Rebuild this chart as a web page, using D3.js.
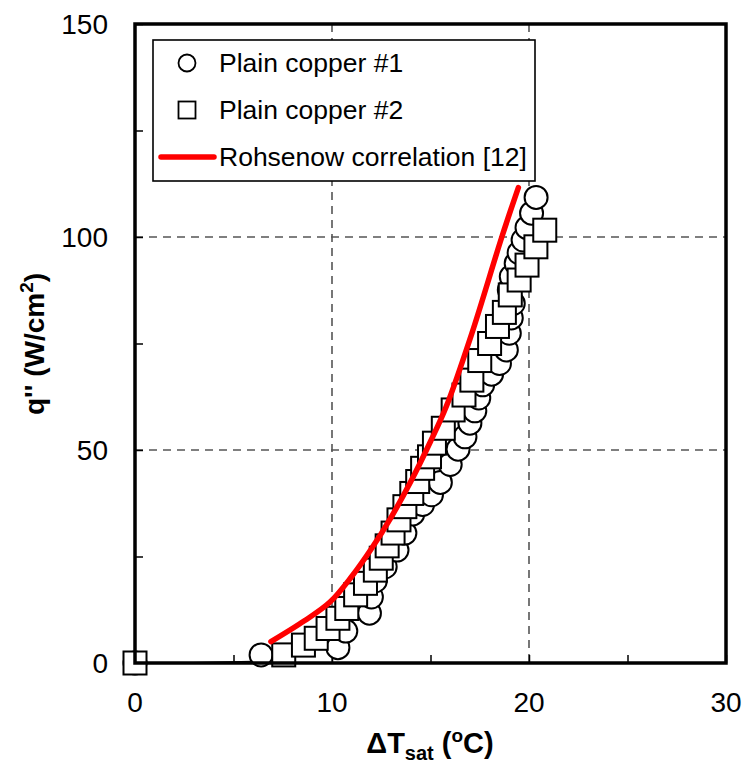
<!DOCTYPE html>
<html>
<head>
<meta charset="utf-8">
<script src="https://cdn.jsdelivr.net/npm/d3@7/dist/d3.min.js"></script>
<style>
  html, body { margin: 0; padding: 0; background: #fff; }
  svg { display: block; font-family: "Liberation Sans", Arial, sans-serif; }
</style>
</head>
<body>
<svg id="chart" width="746" height="767"></svg>
<script>
// Pool boiling curve: heat flux vs wall superheat
const xTicks = [0, 10, 20, 30];
const yTicks = [0, 50, 100, 150];
const xMinor = [5, 15, 25];
const yMinor = [25, 75, 125];

// Plain copper #1 (dT_sat in degC, q'' in W/cm2)
const copper1 = [
  [0, 0], [6.4, 1.9], [10.3, 3.6], [10.7, 7.5], [11.9, 11.7], [12.0, 15.5],
  [12.2, 19.3], [12.7, 22.6], [13.3, 26.5], [13.7, 30.5], [14.1, 35.0],
  [14.6, 37.2], [15.05, 39.5], [15.5, 42.4], [16.0, 46.6], [16.4, 50.2],
  [16.75, 53.1], [17.0, 56.3], [17.25, 59.2], [17.45, 62.2], [17.65, 65.3],
  [18.1, 67.8], [18.5, 70.3], [18.85, 73.5], [19.0, 77.4], [19.1, 81.0],
  [19.2, 84.4], [19.0, 87.6], [19.1, 90.7], [19.35, 93.8], [19.5, 96.3],
  [19.7, 99.3], [19.9, 102.2], [20.13, 105.6], [20.36, 109.3]
];

// Plain copper #2
const copper2 = [
  [0, 0], [7.55, 1.9], [8.55, 4.2], [9.2, 5.8], [9.8, 8.1], [10.3, 10.5],
  [10.75, 12.8], [11.2, 16.0], [11.7, 18.7], [12.2, 21.8], [12.5, 24.6],
  [12.8, 27.5], [13.1, 30.5], [13.4, 33.6], [13.7, 36.7], [14.05, 39.8],
  [14.35, 42.6], [14.6, 45.7], [14.95, 48.4], [15.2, 51.6], [15.65, 55.1],
  [16.15, 59.4], [16.7, 62.9], [17.1, 66.4], [17.5, 71.0], [18.0, 75.0],
  [18.4, 79.0], [18.75, 82.3], [19.05, 86.4], [19.5, 89.9], [19.9, 93.4],
  [20.35, 97.7], [20.8, 101.6]
];

// Rohsenow correlation [12]
const rohsenow = [
  [6.9, 5.0], [8.6, 9.9], [9.9, 14.3], [11.0, 20.3], [12.0, 26.8],
  [13.0, 34.2], [14.0, 42.6], [15.0, 52.0], [15.8, 60.2], [17.1, 77.4],
  [18.62, 100.0], [19.46, 111.6]
];

// Thin connector along the baseline from the origin point
const baseLink = [[0.5, 0.0], [6.0, 0.55], [6.0, -0.25]];

const legendItems = ["Plain copper #1", "Plain copper #2", "Rohsenow correlation [12]"];

const svg = d3.select("#chart");
const x = d3.scaleLinear().domain([0, 30]).range([135, 726]);
const y = d3.scaleLinear().domain([0, 150]).range([663, 24]);

// Dashed grid at interior major ticks
const grid = svg.append("g").attr("stroke", "#555").attr("stroke-width", 1.6)
  .attr("stroke-dasharray", "8,6");
grid.selectAll("line.gx").data(xTicks.filter(d => d > 0 && d < 30)).join("line")
  .attr("x1", d => x(d)).attr("x2", d => x(d))
  .attr("y1", y(150)).attr("y2", y(0));
grid.selectAll("line.gy").data(yTicks.filter(d => d > 0 && d < 150)).join("line")
  .attr("x1", x(0)).attr("x2", x(30))
  .attr("y1", d => y(d)).attr("y2", d => y(d));

// Inward tick marks
const bottomAxis = d3.axisBottom(x).tickValues(xTicks.concat(xMinor)).tickSize(-8).tickFormat("");
const leftAxis = d3.axisLeft(y).tickValues(yTicks.concat(yMinor)).tickSize(-8).tickFormat("");
svg.append("g").attr("transform", `translate(0,${y(0)})`).call(bottomAxis)
  .call(g => g.select(".domain").remove())
  .selectAll("line").attr("stroke", "#000").attr("stroke-width", 1.5);
svg.append("g").attr("transform", `translate(${x(0)},0)`).call(leftAxis)
  .call(g => g.select(".domain").remove())
  .selectAll("line").attr("stroke", "#000").attr("stroke-width", 1.5);

// Tick labels
svg.append("g").selectAll("text").data(xTicks).join("text")
  .attr("x", d => x(d)).attr("y", 712)
  .attr("text-anchor", "middle").attr("font-size", 28).attr("fill", "#000")
  .text(d => d);
svg.append("g").selectAll("text").data(yTicks).join("text")
  .attr("x", 108).attr("y", d => y(d)).attr("dy", "0.36em")
  .attr("text-anchor", "end").attr("font-size", 28).attr("fill", "#000")
  .text(d => d);

// Axis titles
const xt = svg.append("text").attr("x", 430).attr("y", 753)
  .attr("text-anchor", "middle").attr("font-size", 29).attr("font-weight", "bold");
xt.append("tspan").text("ΔT");
xt.append("tspan").attr("font-size", 20).attr("dy", 7).text("sat");
xt.append("tspan").attr("dy", -7).text(" (");
xt.append("tspan").attr("font-size", 19).attr("dy", -11).text("o");
xt.append("tspan").attr("dy", 11).text("C)");

const yt = svg.append("text")
  .attr("transform", `translate(44,344) rotate(-90)`)
  .attr("text-anchor", "middle").attr("font-size", 28).attr("font-weight", "bold");
yt.append("tspan").text("q'' (W/cm");
yt.append("tspan").attr("font-size", 19).attr("dy", -11).text("2");
yt.append("tspan").attr("dy", 11).text(")");

// Baseline connector
svg.append("path").datum(baseLink)
  .attr("d", d => d3.line().x(p => x(p[0])).y(p => y(p[1]))(d) + "Z")
  .attr("fill", "#000");

// Data markers
svg.append("g").selectAll("circle").data(copper1).join("circle")
  .attr("cx", d => x(d[0])).attr("cy", d => y(d[1])).attr("r", 11.5)
  .attr("fill", "#fff").attr("stroke", "#000").attr("stroke-width", 2);
svg.append("g").selectAll("rect").data(copper2).join("rect")
  .attr("x", d => x(d[0]) - 11.5).attr("y", d => y(d[1]) - 11.5)
  .attr("width", 23).attr("height", 23)
  .attr("fill", "#fff").attr("stroke", "#000").attr("stroke-width", 2);

// Correlation line
svg.append("path").datum(rohsenow)
  .attr("d", d3.line().curve(d3.curveCatmullRom.alpha(0.5)).x(p => x(p[0])).y(p => y(p[1])))
  .attr("fill", "none").attr("stroke", "#ff0000").attr("stroke-width", 5.5)
  .attr("stroke-linecap", "round").attr("stroke-linejoin", "round");

// Plot frame
svg.append("rect").attr("x", x(0)).attr("y", y(150))
  .attr("width", x(30) - x(0)).attr("height", y(0) - y(150))
  .attr("fill", "none").attr("stroke", "#000").attr("stroke-width", 3.5);

// Legend
const lg = svg.append("g");
lg.append("rect").attr("x", 153).attr("y", 40).attr("width", 382).attr("height", 141)
  .attr("fill", "#fff").attr("stroke", "#000").attr("stroke-width", 1.6);
const rowY = [63, 110, 157];
lg.append("circle").attr("cx", 187).attr("cy", rowY[0]).attr("r", 8.5)
  .attr("fill", "#fff").attr("stroke", "#000").attr("stroke-width", 1.8);
lg.append("rect").attr("x", 178.5).attr("y", rowY[1] - 8.5).attr("width", 17).attr("height", 17)
  .attr("fill", "#fff").attr("stroke", "#000").attr("stroke-width", 1.8);
lg.append("line").attr("x1", 161).attr("x2", 214).attr("y1", rowY[2]).attr("y2", rowY[2])
  .attr("stroke", "#ff0000").attr("stroke-width", 5.5).attr("stroke-linecap", "round");
lg.selectAll("text").data(legendItems).join("text")
  .attr("x", 219).attr("y", (d, i) => rowY[i]).attr("dy", "0.35em")
  .attr("font-size", 26.5).attr("fill", "#000").text(d => d);
</script>
</body>
</html>
